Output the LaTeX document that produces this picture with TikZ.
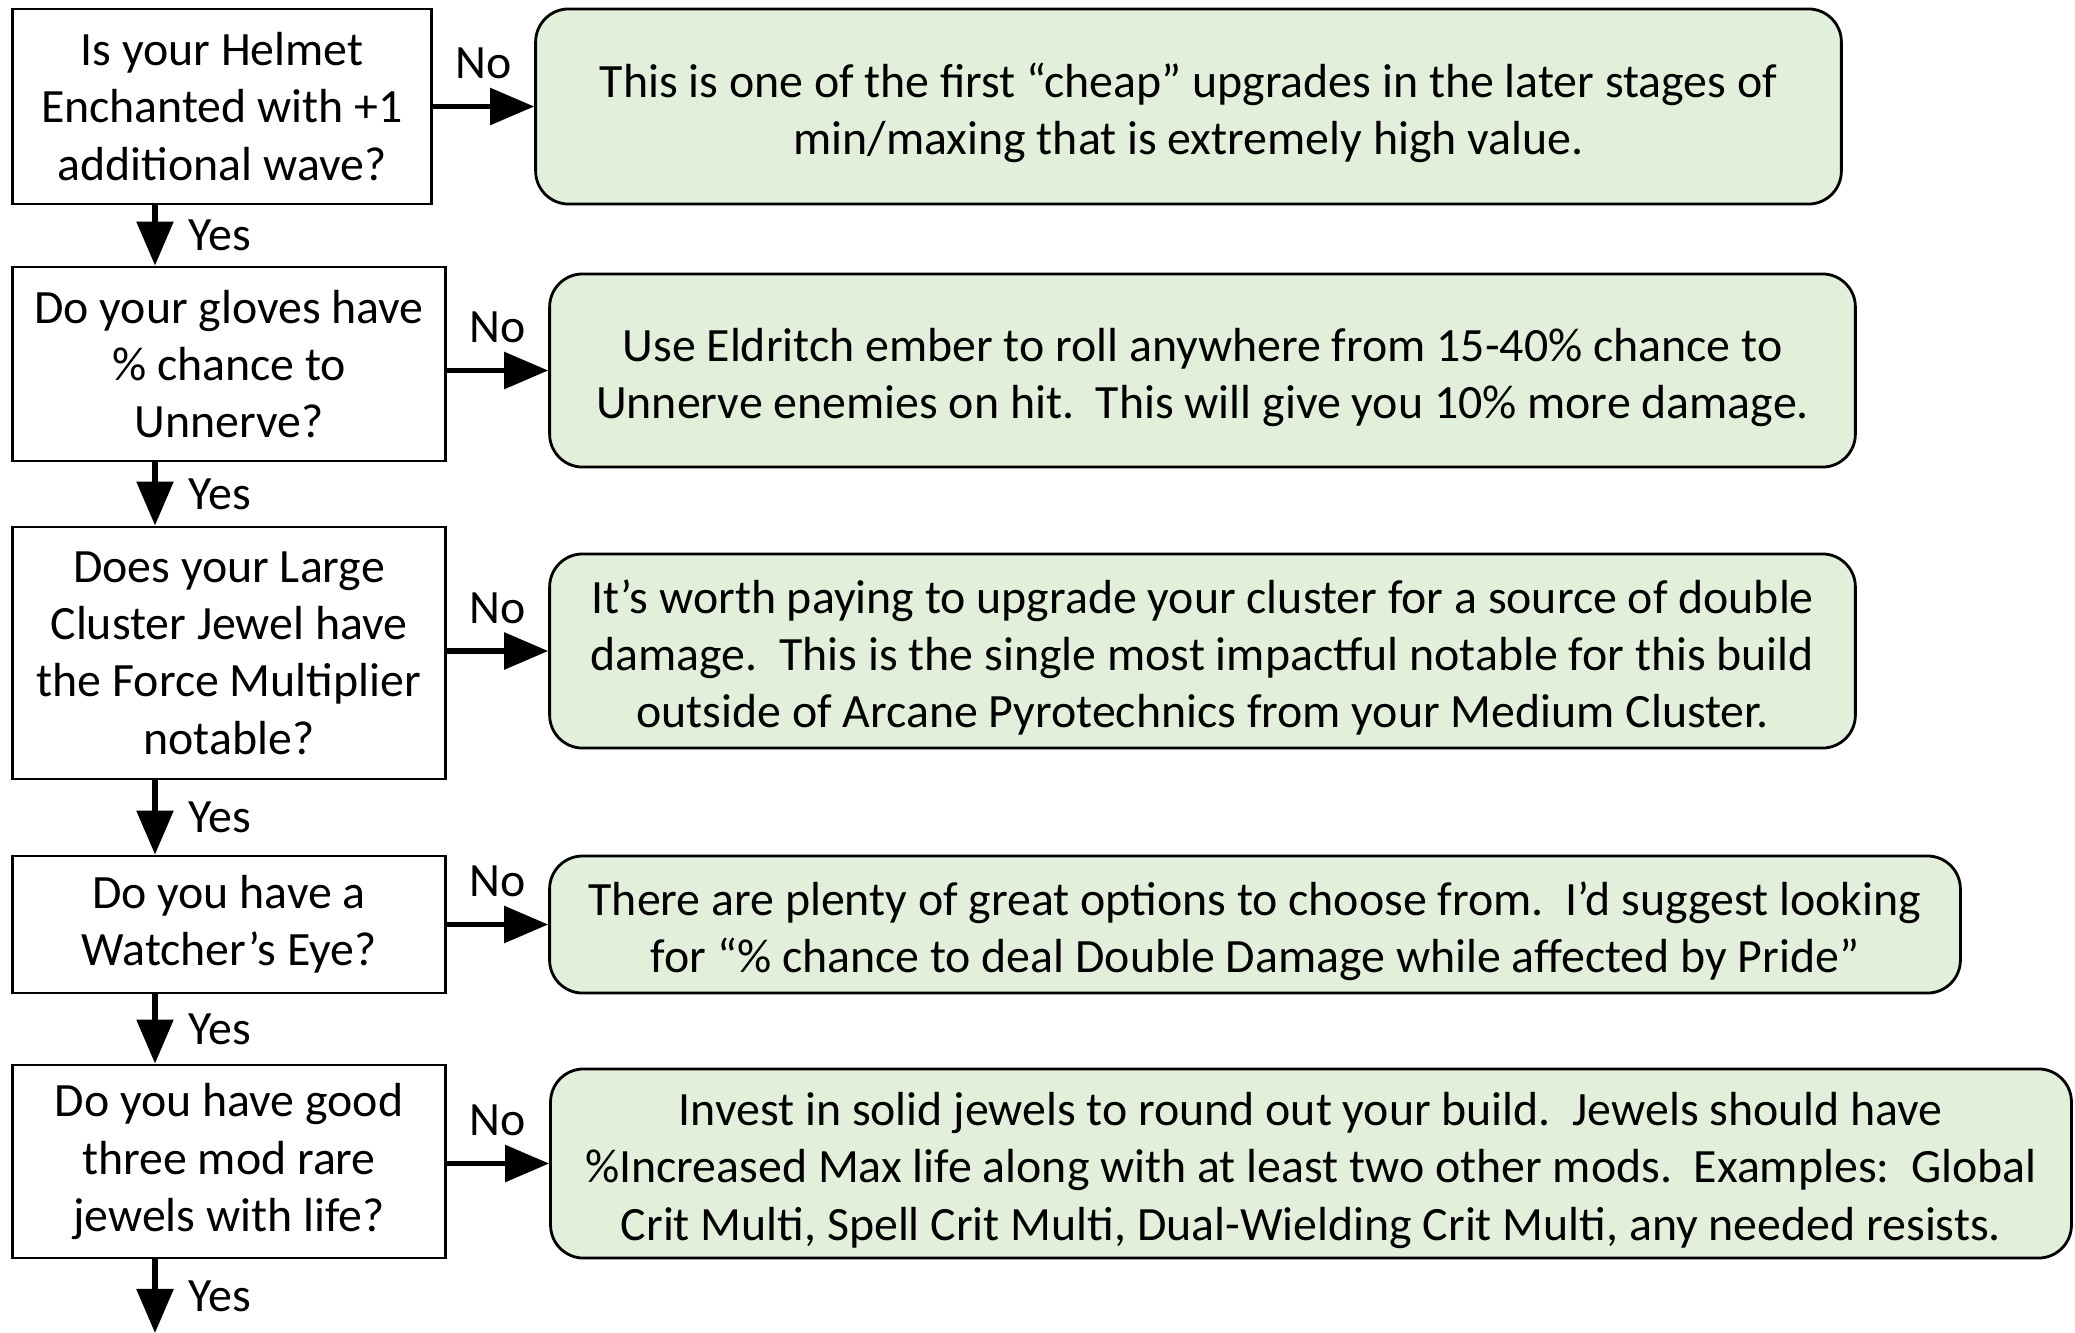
\documentclass[tikz,border=0pt]{standalone}
\usepackage{fontspec}
\setmainfont{Carlito}
\usetikzlibrary{arrows.meta,calc,positioning}
\definecolor{answergreen}{RGB}{226,239,218}
\newcommand{\advstrut}{\rule{0pt}{13.3pt}}

\begin{document}
\begin{tikzpicture}[x=0.01cm,y=-0.01cm,font=\fontsize{13.6}{16.3}\selectfont,
    question/.style={draw,line width=0.8pt,align=center,inner sep=0pt,minimum width=4.32cm},
    answer/.style={draw,line width=0.8pt,align=center,inner sep=0pt,rounded corners=3.3mm,fill=answergreen},
    flow/.style={line width=1.6pt,-{Triangle[length=4.4mm,width=3.6mm]}}]
    \useasboundingbox (0,0) rectangle (2075,1333);
    % questions down the left side
    \node[question,minimum width=4.18cm,minimum height=1.95cm] (helmet) at (222,106.5) {Is your Helmet\\Enchanted with +1\\additional wave?};
    \node[question,minimum height=1.94cm] (gloves) at (229,364) {Do your gloves have\\\% chance to\\Unnerve?};
    \node[question,minimum height=2.52cm] (cluster) at (229,653) {Does your Large\\Cluster Jewel have\\the Force Multiplier\\notable?};
    \node[question,minimum height=1.37cm] (watcher) at (229,924.5) {Do you have a\\Watcher’s Eye?};
    \node[question,minimum height=1.93cm] (jewels) at (229,1161.5) {Do you have good\\three mod rare\\jewels with life?};
    % advice boxes
    \node[answer,minimum width=13.05cm,minimum height=1.95cm] (helmetA) at (1188.5,106.5) {\advstrut This is one of the first “cheap” upgrades in the later stages of\\min/maxing that is extremely high value.};
    \node[answer,minimum width=13.05cm,minimum height=1.93cm] (glovesA) at (1202.5,370.5) {\advstrut Use Eldritch ember to roll anywhere from 15-40\% chance to\\Unnerve enemies on hit.\ \ This will give you 10\% more damage.};
    \node[answer,minimum width=13.05cm,minimum height=1.94cm] (clusterA) at (1202.5,651) {\advstrut It’s worth paying to upgrade your cluster for a source of double\\damage.\ \ This is the single most impactful notable for this build\\outside of Arcane Pyrotechnics from your Medium Cluster.};
    \node[answer,minimum width=14.1cm,minimum height=1.37cm] (watcherA) at (1255,924.5) {\advstrut There are plenty of great options to choose from.\ \ I’d suggest looking\\for “\% chance to deal Double Damage while affected by Pride”};
    \node[answer,minimum width=15.2cm,minimum height=1.89cm] (jewelsA) at (1311,1163.5) {\advstrut Invest in solid jewels to round out your build.\ \ Jewels should have\\\%Increased Max life along with at least two other mods.\ \ Examples:\ \ Global\\Crit Multi, Spell Crit Multi, Dual-Wielding Crit Multi, any needed resists.};
    \coordinate (spine) at (155,0);
    \coordinate (out) at (155,1333);
    \path[flow]
    (helmet.east |- helmetA.west) edge node[above=1.3mm] {No} (helmetA.west)
    (gloves.east |- glovesA.west) edge node[above=1.3mm] {No} (glovesA.west)
    (cluster.east |- clusterA.west) edge node[above=1.3mm] {No} (clusterA.west)
    (watcher.east |- watcherA.west) edge node[above=1.3mm] {No} (watcherA.west)
    (jewels.east |- jewelsA.west) edge node[above=1.3mm] {No} (jewelsA.west)
    (helmet.south -| spine) edge node[right=1.9mm] {Yes} (gloves.north -| spine)
    (gloves.south -| spine) edge node[right=1.9mm] {Yes} (cluster.north -| spine)
    (cluster.south -| spine) edge node[right=1.9mm] {Yes} (watcher.north -| spine)
    (watcher.south -| spine) edge node[right=1.9mm] {Yes} (jewels.north -| spine)
    (jewels.south -| spine) edge node[right=1.9mm] {Yes} (out);
\end{tikzpicture}
\end{document}
